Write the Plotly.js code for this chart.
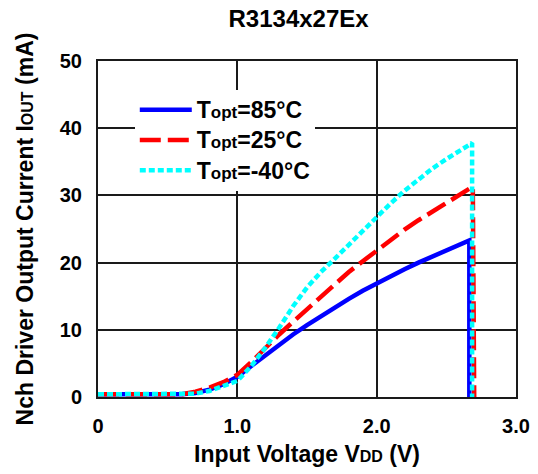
<!DOCTYPE html>
<html>
<head>
<meta charset="utf-8">
<script src="https://cdn.plot.ly/plotly-3.0.1.min.js"></script>
<style>html,body{margin:0;padding:0;background:#fff;}#chart{width:538px;height:474px;}</style>
</head>
<body>
<div id="chart"></div>
<script>
const titleText = "R3134x27Ex";
const xTickVals = [0, 1, 2, 3];
const xTickText = ["0", "1.0", "2.0", "3.0"];
const yTickVals = [0, 10, 20, 30, 40, 50];

const seriesNames = [
  "<span style='font-size:23px'>T</span><span style='font-size:17px'>opt</span><span style='font-size:23px'>=85°C</span>",
  "<span style='font-size:23px'>T</span><span style='font-size:17px'>opt</span><span style='font-size:23px'>=25°C</span>",
  "<span style='font-size:23px'>T</span><span style='font-size:17px'>opt</span><span style='font-size:23px'>=-40°C</span>"
];

const v85 = [0, 0.3, 0.6, 0.7, 0.8, 0.9, 1.0, 1.1, 1.2, 1.3, 1.4, 1.5, 1.6, 1.7, 1.8, 1.9, 2.0, 2.1, 2.2, 2.3, 2.4, 2.5, 2.6, 2.665, 2.665];
const i85 = [0.4, 0.4, 0.4, 0.6, 1.1, 1.9, 3.0, 4.6, 6.2, 7.7, 9.3, 10.7, 12.0, 13.4, 14.6, 15.8, 16.9, 18.0, 19.0, 20.0, 20.9, 21.8, 22.6, 23.3, 0];

const v25 = [0, 0.3, 0.6, 0.7, 0.8, 0.9, 1.0, 1.1, 1.2, 1.3, 1.4, 1.5, 1.6, 1.7, 1.8, 1.9, 2.0, 2.1, 2.2, 2.3, 2.4, 2.5, 2.6, 2.69, 2.70];
const i25 = [0.4, 0.4, 0.4, 0.8, 1.4, 2.2, 3.3, 5.2, 7.3, 9.3, 11.2, 13.1, 15.0, 16.8, 18.6, 20.2, 21.8, 23.4, 24.9, 26.3, 27.6, 28.9, 30.1, 31.3, 0];

const vm40 = [0, 0.3, 0.65, 0.7, 0.8, 0.9, 1.0, 1.1, 1.2, 1.3, 1.4, 1.5, 1.6, 1.7, 1.8, 1.9, 2.0, 2.1, 2.2, 2.3, 2.4, 2.5, 2.6, 2.685, 2.685];
const im40 = [0.4, 0.4, 0.4, 0.5, 0.9, 1.6, 2.4, 4.6, 7.3, 10.3, 13.5, 16.3, 18.6, 20.6, 22.7, 24.8, 26.8, 28.8, 30.7, 32.4, 34.0, 35.4, 36.7, 37.8, 0];

const FONT = "Liberation Sans, Arial, sans-serif";

const traces = [
  {x: v85, y: i85, name: seriesNames[0], mode: "lines",
   line: {color: "#0000ff", width: 4.5, dash: "solid"}},
  {x: v25, y: i25, name: seriesNames[1], mode: "lines",
   line: {color: "#ff0000", width: 4.5, dash: "21px,7px"}},
  {x: vm40, y: im40, name: seriesNames[2], mode: "lines",
   line: {color: "#00ffff", width: 4.5, dash: "6px,3px"}}
];

const layout = {
  width: 538, height: 474,
  margin: {l: 98, r: 22, t: 61, b: 77},
  paper_bgcolor: "#ffffff", plot_bgcolor: "#ffffff",
  font: {family: FONT, color: "#000", size: 18, weight: "bold"},
  title: {text: titleText, x: 0.555, xanchor: "center", y: 0.96, yanchor: "middle",
          font: {family: FONT, size: 24, weight: "bold", color: "#000"}},
  showlegend: true,
  legend: {x: 0.088, y: 0.915, xanchor: "left", yanchor: "top",
           bgcolor: "#ffffff", borderwidth: 0, tracegroupgap: 0, itemwidth: 52,
           font: {family: FONT, size: 21, weight: "bold", color: "#000"}},
  xaxis: {
    range: [0, 3], tickvals: xTickVals, ticktext: xTickText,
    showgrid: true, gridcolor: "#1a1a1a", gridwidth: 2,
    showline: true, linecolor: "#1a1a1a", linewidth: 2, mirror: true,
    zeroline: false, ticks: "", ticklen: 0, ticklabelstandoff: 10,
    tickfont: {family: FONT, size: 20, weight: "bold"},
    title: {text: "Input Voltage V<span style='font-size:16px'>DD</span> (V)", standoff: 10,
            font: {family: FONT, size: 23, weight: "bold"}}
  },
  yaxis: {
    range: [0, 50], tickvals: yTickVals,
    showgrid: true, gridcolor: "#1a1a1a", gridwidth: 2,
    showline: true, linecolor: "#1a1a1a", linewidth: 2, mirror: true,
    zeroline: false, ticks: "", ticklen: 0, ticklabelstandoff: 10,
    tickfont: {family: FONT, size: 20, weight: "bold"},
    title: {text: "Nch Driver Output Current I<span style='font-size:16px'>OUT</span> (mA)", standoff: 20,
            font: {family: FONT, size: 23, weight: "bold"}}
  }
};

Plotly.newPlot("chart", traces, layout, {staticPlot: true, displayModeBar: false});
</script>
</body>
</html>
